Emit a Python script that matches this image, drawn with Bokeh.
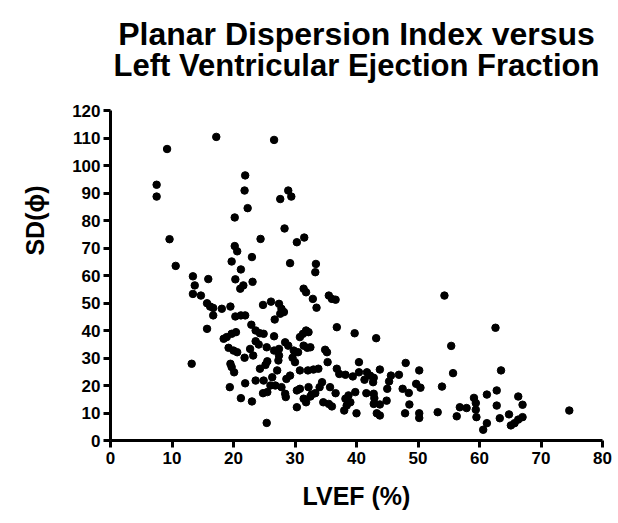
from bokeh.plotting import figure
from bokeh.models import Range1d, FixedTicker, Label
from bokeh.embed import file_html
from bokeh.resources import INLINE

lvef = [7.5, 7.5, 9.2, 9.6, 10.6, 17.2, 13.4, 15.9, 26.6, 21.9, 21.8, 28.9, 27.6, 29.4, 22.3, 20.2,
        28.3, 24.4, 31.5, 30.3, 20.2, 20.6, 23.0, 19.7, 21.2, 29.2, 33.4, 33.3, 20.3, 23.1, 13.7, 13.4,
        14.7, 15.7, 16.2, 16.7, 18.1, 16.7, 19.5, 15.7, 18.4, 18.9, 19.2, 13.2, 19.5, 19.4, 21.6, 21.1,
        31.4, 31.8, 35.5, 36.0, 36.6, 32.9, 33.5, 24.8, 26.1, 27.4, 27.8, 28.2, 27.6, 26.7, 20.3, 21.2,
        21.9, 22.9, 23.6, 24.3, 24.9, 26.6, 36.8, 31.8, 32.2, 31.3, 30.8, 20.4, 19.7, 23.6, 24.1, 25.4,
        26.6, 27.4, 28.4, 28.9, 29.8, 30.5, 31.4, 32.0, 32.5, 34.9, 35.2, 20.0, 20.6, 22.7, 21.8, 23.2,
        27.4, 27.3, 29.6, 30.0, 35.3, 19.7, 20.1, 25.5, 25.2, 24.3, 27.1, 30.8, 32.1, 33.0, 33.8, 36.8,
        37.2, 38.2, 29.2, 28.6, 26.3, 24.9, 23.6, 21.9, 26.0, 26.8, 27.8, 25.5, 24.8, 28.4, 28.5, 30.3,
        30.8, 32.2, 32.7, 32.5, 33.3, 34.0, 34.4, 35.7, 36.6, 34.6, 35.5, 36.0, 31.4, 31.8, 30.3, 38.2,
        38.4, 38.0, 21.2, 23.0, 25.4, 54.3, 39.7, 43.2, 55.4, 40.4, 48.0, 39.4, 40.4, 41.7, 42.2, 41.3,
        42.8, 42.7, 43.8, 45.6, 46.9, 45.3, 45.0, 50.2, 49.7, 50.4, 47.5, 48.5, 53.9, 55.7, 39.8, 38.7,
        39.0, 40.0, 41.6, 42.8, 42.9, 42.8, 43.8, 44.9, 43.3, 43.8, 48.6, 47.9, 50.2, 50.2, 53.2, 56.3,
        56.8, 57.9, 62.6, 63.5, 61.2, 62.8, 59.1, 59.4, 59.4, 59.5, 62.8, 63.3, 64.8, 66.3, 67.0, 67.0,
        66.3, 65.7, 65.1, 61.2, 60.6, 74.6]

sd_phi = [93.0, 88.7, 106.0, 73.2, 63.5, 110.4, 59.7, 58.7, 109.3, 96.4, 90.9, 90.9, 87.8, 88.7, 84.5, 81.1,
          77.1, 73.3, 73.8, 72.1, 70.7, 68.8, 66.7, 65.1, 62.2, 64.5, 64.2, 61.2, 58.6, 57.7, 56.4, 53.3,
          52.7, 49.9, 48.7, 48.2, 47.9, 45.5, 48.7, 40.6, 37.0, 37.6, 33.7, 27.9, 27.9, 19.4, 56.4, 55.2,
          55.2, 53.9, 52.7, 51.5, 51.2, 51.5, 48.3, 49.3, 50.5, 49.7, 47.9, 46.7, 46.1, 44.0, 45.1, 45.5,
          45.5, 42.1, 40.0, 39.0, 38.8, 37.9, 41.2, 40.0, 39.4, 38.8, 37.6, 39.4, 38.8, 36.1, 34.9, 33.9,
          32.7, 33.3, 35.7, 34.5, 32.7, 32.1, 34.5, 33.7, 33.9, 33.0, 32.1, 32.7, 32.1, 33.3, 30.1, 30.9,
          30.9, 29.1, 30.1, 28.5, 28.5, 26.7, 24.8, 28.8, 27.5, 26.1, 25.5, 25.5, 25.5, 25.8, 26.1, 26.1,
          24.2, 23.9, 23.6, 22.4, 23.0, 21.8, 21.8, 20.8, 20.0, 20.0, 19.4, 17.6, 17.2, 17.0, 15.8, 18.2,
          18.8, 19.4, 16.7, 16.0, 17.2, 19.4, 21.2, 19.4, 17.2, 13.9, 13.3, 12.4, 15.2, 13.9, 12.1, 15.2,
          12.7, 10.9, 15.4, 14.2, 6.4, 52.7, 39.0, 37.2, 34.4, 28.5, 28.2, 23.3, 24.8, 24.8, 23.6, 22.1,
          22.8, 21.2, 25.8, 23.6, 23.9, 21.5, 18.8, 25.5, 20.6, 19.2, 18.8, 17.3, 19.6, 24.5, 17.6, 16.4,
          13.9, 9.9, 17.2, 17.0, 15.4, 13.3, 13.1, 14.5, 9.9, 9.1, 13.1, 9.9, 9.9, 8.2, 10.3, 8.8,
          12.1, 11.8, 41.0, 25.5, 16.7, 18.2, 15.5, 13.6, 11.2, 8.5, 12.7, 8.1, 9.5, 16.0, 13.0, 8.5,
          7.6, 6.3, 5.5, 6.3, 3.9, 10.9]

x_ticks = [0, 10, 20, 30, 40, 50, 60, 70, 80]
y_ticks = [0, 10, 20, 30, 40, 50, 60, 70, 80, 90, 100, 110, 120]

title_line1 = "Planar Dispersion Index versus"
title_line2 = "Left Ventricular Ejection Fraction"
x_label = "LVEF (%)"
y_label = "SD(ϕ)"

FONT = "Liberation Sans"

# frame reaches the top of the canvas; the y axis itself is bounded to 0..120
p = figure(width=618, height=523, output_backend="svg", toolbar_location=None,
           x_range=Range1d(0, 80), y_range=Range1d(0, 160),
           min_border_left=110, min_border_right=16, min_border_top=0, min_border_bottom=83)
p.title.visible = False

for txt, ypos, fs in ((title_line1, 148.0, "32px"), (title_line2, 136.4, "31px")):
    p.add_layout(Label(x=40, y=ypos, text=txt, text_align="center", text_baseline="middle",
                       text_font=FONT, text_font_size=fs, text_font_style="bold",
                       text_color="black"))

p.outline_line_color = None
p.grid.grid_line_color = None

for ax, ticks in ((p.xaxis[0], x_ticks), (p.yaxis[0], y_ticks)):
    ax.ticker = FixedTicker(ticks=ticks)
    ax.axis_line_width = 3
    ax.axis_line_color = "black"
    ax.major_tick_line_width = 3
    ax.major_tick_line_color = "black"
    ax.major_tick_out = 7
    ax.major_tick_in = 0
    ax.minor_tick_line_color = None
    ax.major_label_text_font = FONT
    ax.major_label_text_font_size = "17px"
    ax.major_label_text_font_style = "bold"
    ax.major_label_text_color = "black"
    ax.axis_label_text_font = FONT
    ax.axis_label_text_font_size = "25px"
    ax.axis_label_text_font_style = "bold"
    ax.axis_label_text_color = "black"

p.yaxis.bounds = (0, 120)
p.xaxis.axis_label = x_label
p.yaxis.axis_label = y_label
p.xaxis.major_label_standoff = 4
p.yaxis.major_label_standoff = 3
p.xaxis.axis_label_standoff = 15
p.yaxis.axis_label_standoff = 20

p.scatter(lvef, sd_phi, size=7.5, color="black", line_color="black")

open("out.html", "w").write(file_html(p, INLINE))
